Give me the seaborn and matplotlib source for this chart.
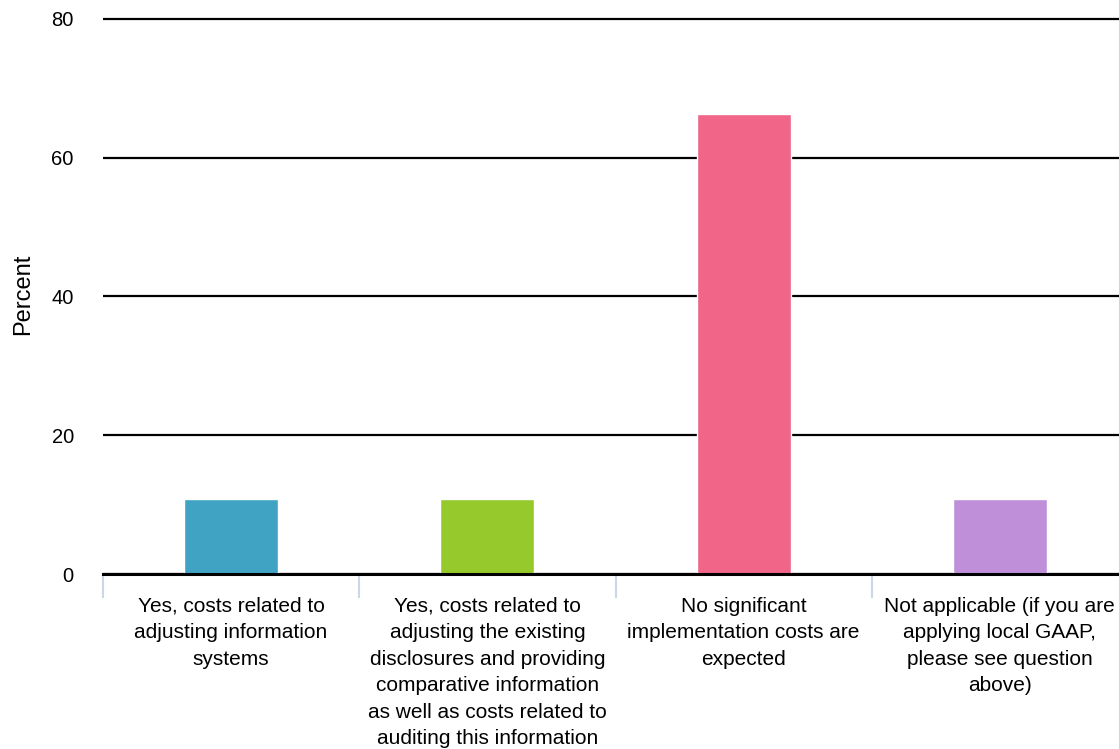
import matplotlib
matplotlib.use('Agg')
import matplotlib.pyplot as plt
from matplotlib.ticker import FixedLocator
import seaborn as sns
import pandas as pd

categories = [
    'Yes, costs related to\nadjusting information\nsystems',
    'Yes, costs related to\nadjusting the existing\ndisclosures and providing\ncomparative information\nas well as costs related to\nauditing this information',
    'No significant\nimplementation costs are\nexpected',
    'Not applicable (if you are\napplying local GAAP,\nplease see question\nabove)',
]
values = [10.8, 10.8, 66.3, 10.8]
colors = ['#41a3c3', '#96c92b', '#f06588', '#bf90d9']
y_ticks = [0, 20, 40, 60, 80]

sns.set_style('white')
plt.rcParams['font.family'] = ['Liberation Sans', 'DejaVu Sans']
plt.rcParams['text.color'] = 'black'
plt.rcParams['axes.labelcolor'] = 'black'
plt.rcParams['xtick.color'] = 'black'
plt.rcParams['ytick.color'] = 'black'

df = pd.DataFrame({'cat': categories, 'pct': values})

fig = plt.figure(figsize=(11.19, 7.49), dpi=100)
ax = fig.add_axes([103 / 1119, 175 / 749, 1025 / 1119, 558.5 / 749])

sns.barplot(data=df, x='cat', y='pct', hue='cat', palette=colors,
            width=0.367, legend=False, ax=ax, saturation=1)

ax.set_ylim(0, 80.5)
ax.set_xlim(-0.5, 3.5)
ax.set_yticks(y_ticks)
ax.yaxis.grid(True, color='black', linewidth=1.6)
ax.set_axisbelow(True)
for s in ['left', 'right', 'top']:
    ax.spines[s].set_visible(False)
ax.spines['bottom'].set_color('black')
ax.spines['bottom'].set_linewidth(2.2)
ax.spines['bottom'].set_zorder(5)

ax.set_xlabel('')
ax.set_ylabel('Percent', fontsize=17)
ax.yaxis.set_label_coords(-0.067, 0.5)
ax.tick_params(axis='y', length=0, pad=21, labelsize=14.5)
ax.set_yticklabels([str(t) for t in y_ticks], ha='right')
ax.tick_params(axis='x', which='major', length=0, pad=16.5, labelsize=15,
               labelcolor='black')
for lbl in ax.get_xticklabels():
    lbl.set_linespacing(1.5)
    lbl.set_va('top')
ax.xaxis.set_minor_locator(FixedLocator([-0.5, 0.5, 1.5, 2.5, 3.5]))
ax.tick_params(axis='x', which='minor', bottom=True, length=17, width=1.5,
               color='#ccd6eb')

fig.savefig('out.png', dpi=100)
